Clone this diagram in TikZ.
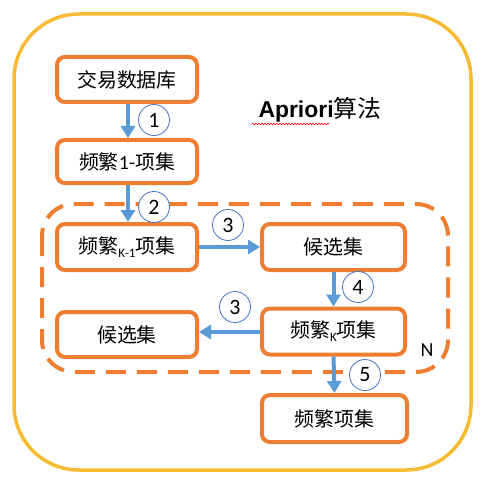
\documentclass[tikz,border=0pt]{standalone}
\usepackage{fontspec}
\setmainfont{Carlito}
\newfontfamily\cjk{Noto Sans CJK SC}
\newfontfamily\lsans{Liberation Sans}
\usetikzlibrary{arrows.meta,decorations.pathmorphing}
\definecolor{orng}{HTML}{ED7D31}
\definecolor{yell}{HTML}{F6BA33}
\definecolor{blu}{HTML}{5B9BD5}
\definecolor{cblu}{HTML}{4472C4}
\tikzset{
  box/.style={draw=orng, line width=4bp, rounded corners=8bp, fill=white, inner sep=0pt, font=\cjk\fontsize{20}{22}\selectfont},
  flow/.style={draw=blu, line width=4bp, -{Triangle[width=14bp,length=12bp]}},
  num/.style={circle, draw=cblu, line width=0.8bp, minimum size=31bp, inner sep=0pt, fill=white, font=\fontsize{22}{24}\selectfont},
}
\begin{document}
\begin{tikzpicture}[x=1bp,y=-1bp]
\useasboundingbox (0,0) rectangle (485,479);
\draw[yell, line width=3.5bp, rounded corners=65bp] (14,14) rectangle (471,470);
\draw[orng, line width=4bp, dash pattern=on 20bp off 11bp, rounded corners=32bp] (42,204) rectangle (448,372);

\node[box, minimum width=140bp, minimum height=45bp] (db) at (127,79.5) {交易数据库};
\node[box, minimum width=140bp, minimum height=43bp] (f1) at (127,161.5) {频繁{\rmfamily 1-}项集};
\node[box, minimum width=140bp, minimum height=46bp] (fk1) at (127,247) {频繁{\rmfamily\fontsize{13}{14}\selectfont\raisebox{-4bp}{K-1}}项集};
\node[box, minimum width=143bp, minimum height=46bp] (c1) at (333.5,247) {候选集};
\node[box, minimum width=143bp, minimum height=46bp] (fk) at (333.5,331.5) {频繁{\rmfamily\fontsize{13}{14}\selectfont\raisebox{-4bp}{K}}项集};
\node[box, minimum width=140bp, minimum height=45bp] (c2) at (127,334.5) {候选集};
\node[box, minimum width=145bp, minimum height=47bp] (fs) at (334.5,418.5) {频繁项集};

\node[anchor=base, inner sep=0pt] (title) at (320,118) {{\lsans\bfseries\fontsize{23}{26}\selectfont Apriori}{\cjk\fontsize{24}{26}\selectfont 算法}};
\coordinate (wl) at (252,124);
\coordinate (wr) at (329,124);
\draw[red, line width=0.6bp, decorate, decoration={snake, amplitude=0.8bp, segment length=3bp}] (wl) -- (wr);

\draw[flow] (db.south -| 128,0) -- (f1.north -| 128,0);
\draw[flow] (f1.south -| 128,0) -- (fk1.north -| 128,0);
\draw[flow] (fk1.east) -- (c1.west);
\draw[flow] (c1.south) -- (fk.north);
\draw[flow] (fk.west |- 0,332) -- (c2.east |- 0,332);
\draw[flow] (fk.south) -- (fs.north);

\node[num] (n1) at (154,120) {1};
\node[num] (n2) at (154,207) {2};
\node[num] (n3a) at (228,225) {3};
\node[num] (n4) at (358,287) {4};
\node[num] (n3b) at (235,307) {3};
\node[num] (n5) at (365,375) {5};
\node[font=\fontsize{20}{22}\selectfont] (N) at (427,350) {N};
\end{tikzpicture}
\end{document}
